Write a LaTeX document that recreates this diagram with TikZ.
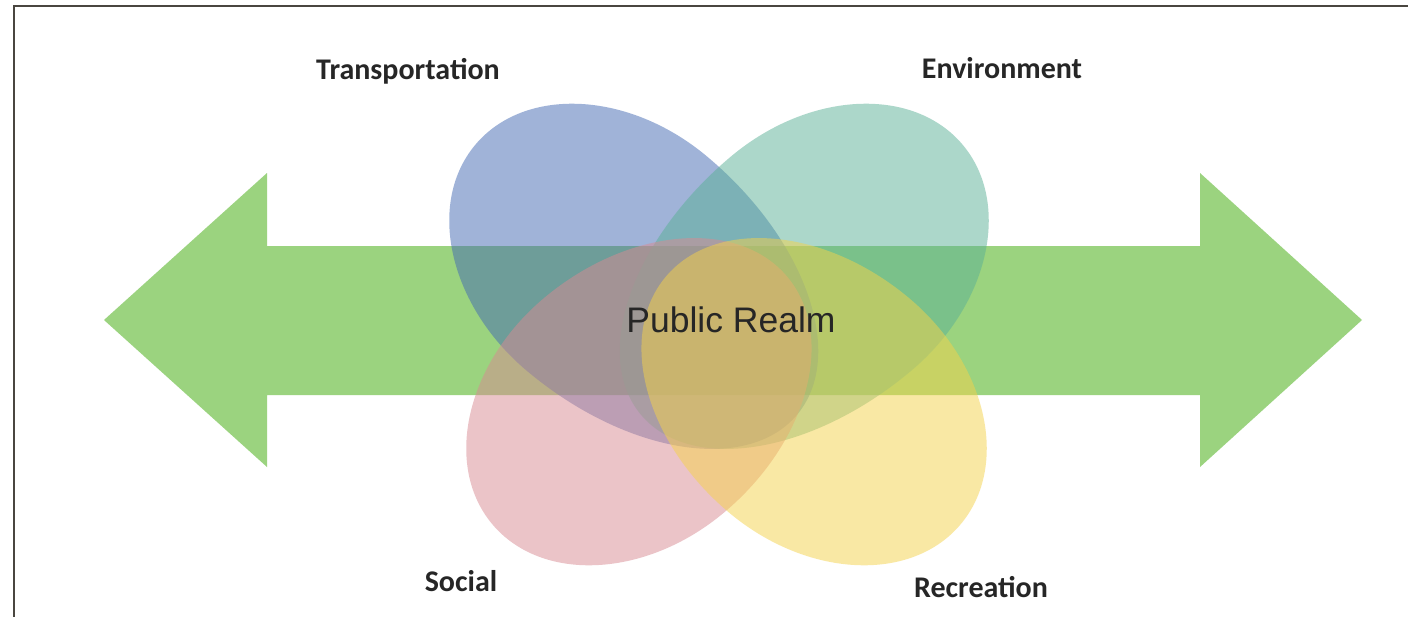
\documentclass[tikz,border=0pt]{standalone}
\usepackage{fontspec}
\setmainfont{Liberation Sans}
\newfontfamily\labelfont{Carlito}
\definecolor{arrowgreen}{HTML}{9BD37F}
\definecolor{eggblue}{HTML}{4369B3}
\definecolor{eggteal}{HTML}{5AB096}
\definecolor{eggpink}{HTML}{D88A92}
\definecolor{eggyellow}{HTML}{F5D24A}
\definecolor{framecol}{HTML}{4A4640}
\definecolor{txt}{HTML}{262626}
% #1 = length of the narrow half, #2 = its first control offset
\newcommand\eggoutline[2]{(-215,0) .. controls (-215,-77) and (-132,-140) .. (-30,-140) .. controls (#2,-140) and (#1,-77) .. (#1,0) .. controls (#1,77) and (#2,140) .. (-30,140) .. controls (-132,140) and (-215,77) .. (-215,0) -- cycle}
\begin{document}
\begin{tikzpicture}[x=1pt,y=-1pt,
  egg/.style={fill=#1, fill opacity=0.5, draw=none},
  catlabel/.style={font=\labelfont\bfseries\fontsize{30}{32}\selectfont, text=txt, inner sep=0pt},
  centerlabel/.style={font=\fontsize{35.5}{38}\selectfont, text=txt, inner sep=0pt}]
\useasboundingbox (0,0) rectangle (1408,616);
\fill[white] (0,0) rectangle (1408,616);
\draw[framecol, line width=2pt] (14,617) -- (14,6) -- (1409,6);
% double arrow
\fill[arrowgreen] (104,320) -- (267,173) -- (267,246) -- (1200,246) -- (1200,173) -- (1362,320)
  -- (1200,467) -- (1200,395) -- (267,395) -- (267,467) -- cycle;
% eggs
\begin{scope}[shift={(640,283)}, rotate=-40]
  \fill[egg=eggblue] \eggoutline{205}{100};
\end{scope}
\begin{scope}[shift={(798,283)}, rotate=-140]
  \fill[egg=eggteal] \eggoutline{205}{100};
\end{scope}
\begin{scope}[shift={(657,386)}, rotate=40]
  \fill[egg=eggpink] \eggoutline{170}{80};
\end{scope}
\begin{scope}[shift={(796,386)}, rotate=140]
  \fill[egg=eggyellow] \eggoutline{170}{80};
\end{scope}
% labels
\node[centerlabel] (realm) at (731,320) {Public Realm};
\node[catlabel] (transport) at (408,71) {Transportation};
\node[catlabel] (environment) at (1002,68) {Environment};
\node[catlabel] (social) at (461,581) {Social};
\node[catlabel] (recreation) at (981,587) {Recreation};
\end{tikzpicture}
\end{document}
